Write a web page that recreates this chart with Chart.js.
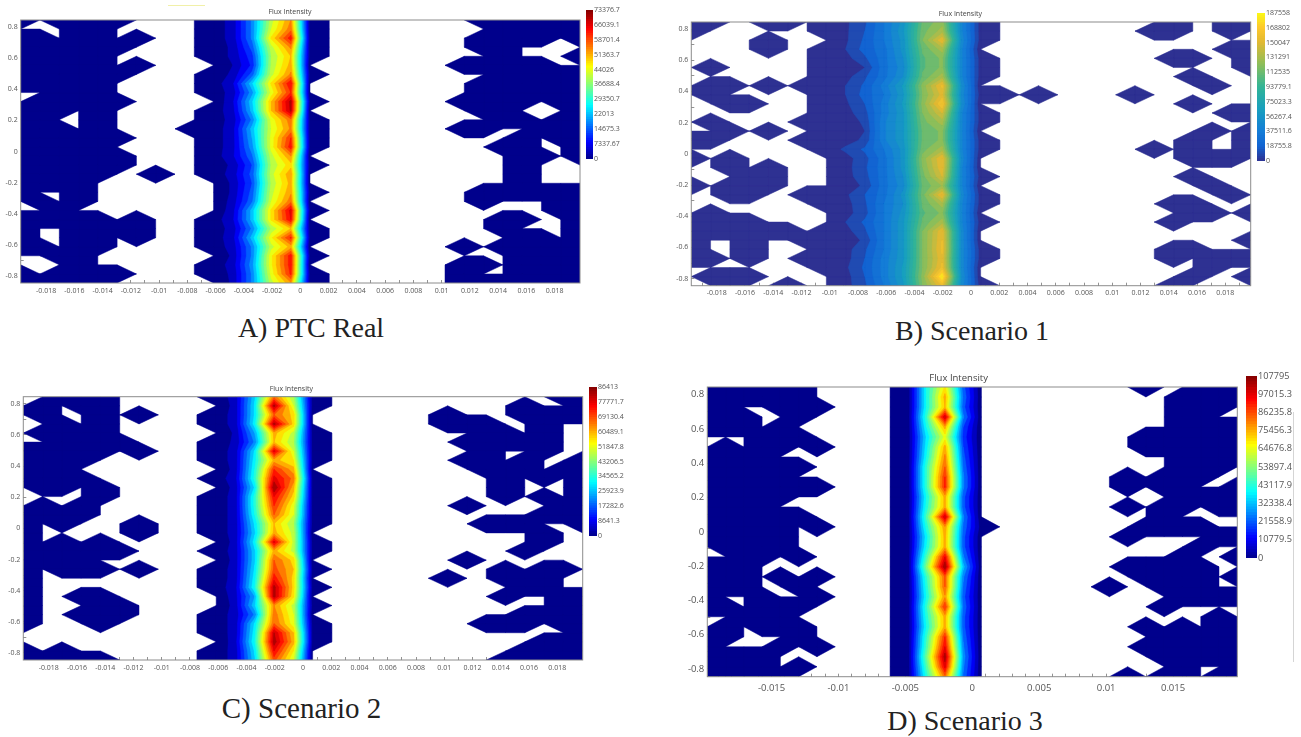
<!DOCTYPE html>
<html>
<head>
<meta charset="utf-8">
<title>Flux Intensity</title>
<script src="https://cdn.jsdelivr.net/npm/chart.js@4/dist/chart.umd.min.js"></script>
<style>
  html,body{margin:0;background:#fff;width:1301px;height:737px;overflow:hidden}
  canvas{position:absolute;filter:blur(.35px)}
  .caption{position:absolute;font-family:"Liberation Serif",serif;color:#222;white-space:nowrap;transform:translateX(-50%)}
  .speck{position:absolute}
</style>
</head>
<body>
<div class="speck" style="left:168px;top:5px;width:37px;height:1px;background:#f1f0a8"></div>
<div class="speck" style="left:1293px;top:412px;width:1px;height:250px;background:#d5d5d5"></div>
<div class="caption" style="left:311px;top:312px;font-size:28px">A) PTC Real</div>
<div class="caption" style="left:972px;top:315px;font-size:28px">B) Scenario 1</div>
<div class="caption" style="left:301.5px;top:692px;font-size:29px">C) Scenario 2</div>
<div class="caption" style="left:965px;top:705px;font-size:28px">D) Scenario 3</div>
<script>
// Node masks, 30 columns x 30 rows, top row first. '#' has flux, '.' has none.
// Written as cols 0-9, cols 10-15 (the beam), cols 16-29
const maskA = [
  "#.####.... ###### ........######",
  "...##..... ###### .........#####",
  "##.##.#... ###### ........####.#",
  "######.... ###### ........##....",
  "#####..... ###### .........#...#",
  "#####.#... .####. .......#####..",
  "######.... ###### .........#####",
  "#####..... #####. ........######",
  "..###..... #####. ........######",
  ".#####.... .##### .......####.##",
  "###.#..... #####. ........##...#",
  "##..#..... ###### .........##.##",
  "###.#....# ###### .......##..###",
  "######.... ###### ..........#.##",
  "#####..... ###### .........##..#",
  "######.... #####. ..........##.#",
  "######.... ###### ..........#...",
  "#####..#.. #####. ..........#...",
  "####...... .####. ..........#...",
  "#..#...... .##### ........######",
  ".#.#...... .####. ........#...##",
  "..#....... .##### ............##",
  "#####.#... #####. .........##..#",
  "#..####... ###### .........#...#",
  "#..##.#... ###### ..........##.#",
  "##.##..... #####. .......#.#####",
  "..##...... .##### ..........####",
  "...#...... #####. .......##.####",
  "#.####.... ###### .......#..####",
  "#####..... .##### .......#######"
];
const maskB = [
  "##..##.### ###### .........#..##",
  "#......### ###### ........##..#.",
  "....#...## ###### ..............",
  "....#..### #####. ............##",
  ".......### ###### .........##..#",
  ".#.....### ###### .............#",
  ".......### ###### ..........#...",
  ".##.#.#### #####. ...........#..",
  ".#.....### ###### #.#....#......",
  "..##...### #####. ..........#...",
  ".......### ###### ............##",
  ".#....#### ###### ..............",
  "..#.#..### #####. ...........#.#",
  "##....#### ###### ..........#..#",
  ".......### ###### ........#.#..#",
  "#.#.....## #####. ..........###.",
  "..#.#...## #####. ..............",
  "...##...## ###### ..........#...",
  "#.###...## #####. ...........#..",
  "..##..#### ###### ............#.",
  ".......### ###### .........##...",
  ".#......## #####. ..........##.#",
  "####....## ###### .........#....",
  "######.### #####. ..............",
  "#..#..#### #####. .............#",
  "#..#...### ###### .........##...",
  "##.#..#.## ###### .........#.###",
  ".......### #####. ...........#..",
  ".###....## #####. ..........#..#",
  "..#..#..## ###### .........#...."
];
const maskC = [
  "..###..... ###### ............##",
  ".#.##..... .##### ..........#..#",
  ".#..#.#... #####. ......#...####",
  "..#.#..... #####. ......###..#..",
  ".####..... .##### ........##.#..",
  "..####.... ###### .......#####..",
  "#####.#... ###### ........#..#..",
  "####...... ###### .......##.#..#",
  "###....... .####. ........###.##",
  "####...... ###### .........#.#.#",
  ".##.#..... .##### .........#...#",
  "....#..... ###### .........#.#.#",
  ".#.#...... ###### .......#....##",
  "####...... ###### ...........##.",
  "#.#...#... ###### ........###..#",
  "#.....#... #####. ...........#..",
  "#.#.#..... .##### ...........#..",
  "######.... ###### ..........#...",
  "####...... .####. .......#......",
  "#.###.#... ###### .........#.##.",
  "#......... #####. ......#..###..",
  "#......... ###### ..........##..",
  "#..##..... .####. .........#..##",
  "#...##.... .##### ............##",
  "#..###.... #####. ..........####",
  "#...#..... ###### ........###.##",
  ".......... ###### .............#",
  ".......... .##### ...........###",
  "#.#....... #####. ..........####",
  "#####..... #####. .........#####"
];
const maskD = [
  "######.... .####. ........#..###",
  "######.... .####. ..........####",
  "##..###... .####. ..........###.",
  "###..#.... .####. ..........##..",
  "###.#..... .####. ..........####",
  "...###.... .####. ........######",
  ".#.##.#... .####. ........######",
  "####...... .####. ..........####",
  "######.... .####. ..........###.",
  "#####..... .####. .......#.###..",
  "#######... .####. .......#.##..#",
  "#####..... .####. ..........####",
  "####...... .####. .......#.##.##",
  "######.... .####. .........#....",
  "#####.#... .##### ........####..",
  "#####..... .####. .......#....##",
  ".####..... .####. ...........#..",
  "..##.#.... .####. ..........#..#",
  "###....... .####. .......###.#..",
  "###.#.#... .####. ........##.#.#",
  "###..#.... .####. ......#..#.#..",
  "#..#..#... .####. ..........####",
  "##.###.... .####. .........#....",
  "..###..... .####. ............#.",
  ".#.###.... .####. ........#.#.##",
  "##...#.... .####. .........#####",
  "#...#.#... .####. ........######",
  "####...... .####. .........#####",
  "####.#.... .####. ..........#..#",
  "#####..... .####. .......#.##.##"
];

// Beam columns, percent of the colour bar top, one value per row, top row first
const col11A = [7,7,7,6,6,5,6,9,7,9,8,7,8,8,8,9,6,7,6,6,7,8,9,7,8,7,6,7,6,6];
const col12A = [26,26,26,22,18,16,22,34,28,34,32,26,32,30,28,24,20,22,20,22,24,32,32,26,32,26,26,28,26,26];
const col13A = [58,60,66,58,55,56,58,66,62,70,70,62,60,62,62,58,56,58,56,58,60,66,66,56,64,58,64,64,62,58];
const col14A = [75,78,88,76,70,72,76,90,85,97,96,78,76,85,88,75,68,74,72,74,78,92,90,70,86,72,88,88,86,74];

const col08B = [4,4,4,5,3,2,3,5,5,4,3,2,2,3,6,3,3,3,2,4,3,3,5,3,2,3,3,4,3,3];
const col09B = [9,10,11,12,9,5,9,11,12,10,8,6,5,6,11,8,9,8,6,10,9,8,11,9,6,9,10,11,10,9];
const col10B = [20,20,20,18,18,18,18,22,20,22,22,24,24,24,20,18,18,18,18,18,20,20,20,20,20,20,22,22,22,20];
const col11B = [32,34,32,32,30,28,30,36,34,36,34,34,34,34,32,32,32,30,28,32,30,32,34,34,34,34,34,36,36,34];
const col12B = [61,63,65,61,59,59,61,67,65,67,65,63,61,61,63,67,65,63,61,63,61,59,61,65,65,65,65,65,67,65];
const col13B = [68,72,84,72,66,66,72,86,82,90,80,72,66,66,72,85,84,80,70,85,72,66,72,84,85,86,84,86,100,85];
const col14B = [26,26,28,26,26,26,26,30,28,30,26,26,26,26,26,28,26,26,26,28,26,26,26,28,28,28,28,28,30,28];

const col11C = [7,7,7,7,6,6,7,7,7,8,7,7,7,7,7,7,7,7,7,7,7,8,8,7,7,7,7,8,7,7];
const col12C = [34,36,36,38,30,26,36,38,40,42,36,42,42,40,36,34,38,34,34,36,38,40,30,34,26,36,38,40,36,34];
const col13C = [78,97,80,97,72,70,92,72,85,92,100,90,85,80,70,72,92,72,80,82,88,97,97,75,78,80,95,98,90,82];
const col14C = [55,60,68,68,58,55,60,65,72,78,72,68,62,60,55,58,58,58,68,70,68,68,66,58,60,62,70,72,65,60];

const col12D = [40,40,40,44,40,36,38,40,44,44,44,40,42,46,42,38,40,46,52,44,42,40,44,42,40,44,46,50,46,42];
const col13D = [66,72,70,95,72,62,72,76,80,85,86,72,72,95,74,72,72,90,100,80,80,74,85,72,72,85,90,98,92,78];
const col14D = [22,24,22,26,20,18,20,22,24,26,26,22,22,26,24,22,22,26,32,26,24,22,24,22,22,24,26,28,26,24];

// Colour bar tick values, bottom up
const barTicksA = [0,7337.67,14675.3,22013,29350.7,36688.4,44026,51363.7,58701.4,66039.1,73376.7];
const barTicksB = [0,18755.8,37511.6,56267.4,75023.3,93779.1,112535,131291,150047,168802,187558];
const barTicksC = [0,8641.3,17282.6,25923.9,34565.2,43206.5,51847.8,60489.1,69130.4,77771.7,86413];
const barTicksD = [0,10779.5,21558.9,32338.4,43117.9,53897.4,64676.8,75456.3,86235.8,97015.3,107795];

// Axis ticks
const xTicksFine = [-0.018,-0.016,-0.014,-0.012,-0.01,-0.008,-0.006,-0.004,-0.002,0,0.002,0.004,0.006,0.008,0.01,0.012,0.014,0.016,0.018];
const xTicksWide = [-0.015,-0.01,-0.005,0,0.005,0.01,0.015];
const xMinor = [-0.019,-0.017,-0.015,-0.013,-0.011,-0.009,-0.007,-0.005,-0.003,-0.001,0.001,0.003,0.005,0.007,0.009,0.011,0.013,0.015,0.017,0.019];
const xMinorWide = [-0.019,-0.018,-0.017,-0.016,-0.014,-0.013,-0.012,-0.011,-0.009,-0.008,-0.007,-0.006,-0.004,-0.003,-0.002,-0.001,0.001,0.002,0.003,0.004,0.006,0.007,0.008,0.009,0.011,0.012,0.013,0.014,0.016,0.017,0.018,0.019];
const yTicks = [-0.8,-0.6,-0.4,-0.2,0,0.2,0.4,0.6,0.8];
const yMinor = [-0.7,-0.5,-0.3,-0.1,0.1,0.3,0.5,0.7];

// Colour maps: position, r, g, b
const jetStops = [[0,0,0,140],[.11,0,0,255],[.36,0,255,255],[.62,255,255,0],[.87,255,0,0],[1,128,0,0]];
const parulaStops = [[0,46,49,146],[.1,18,100,210],[.2,20,125,215],[.35,25,160,190],[.5,50,180,150],[.65,140,190,90],[.8,225,185,50],[.9,253,200,45],[1,250,250,20]];

const NODES = 30, LEVELS = 20, FLOOR = 2, X_END = 0.0198, Y_END = 0.845;

function colorAt(stops, f){
  let i = 1;
  while(i < stops.length-1 && stops[i][0] < f) i++;
  const a = stops[i-1], b = stops[i], t = Math.min(1,Math.max(0,(f-a[0])/(b[0]-a[0])));
  const c = [1,2,3].map(n=>Math.round(a[n]+(b[n]-a[n])*t));
  return `rgb(${c[0]},${c[1]},${c[2]})`;
}

// grid nodes for the scatter dataset, v is flux
function buildNodes(mask, beam, top){
  const nodes = [];
  mask.forEach((line,j)=>{
    const row = line.replace(/ /g,'');
    for(let k=0;k<NODES;k++){
      let pct = 0;
      if(row[k]==='#') pct = beam[k] ? beam[k][j] : FLOOR;
      nodes.push({x:-X_END+k*2*X_END/(NODES-1), y:Y_END-j*2*Y_END/(NODES-1), v:pct/100*top});
    }
  });
  return nodes;
}

// part of one grid cell at or above a level, with linear interpolation on its edges
function clipCell(corners, level){
  const out = [];
  corners.forEach((a,i)=>{
    const b = corners[(i+1)%4];
    if(a.v>=level) out.push(a);
    if((a.v>=level)!==(b.v>=level)){
      const t = (level-a.v)/(b.v-a.v);
      out.push({px:a.px+(b.px-a.px)*t, py:a.py+(b.py-a.py)*t, v:level});
    }
  });
  return out;
}

const fluxContour = {
  id:'fluxContour',
  beforeDatasetsDraw(chart){
    const {ctx, chartArea:area, scales:{x,y}} = chart;
    const cfg = chart.options.plugins.fluxContour;
    const nodes = chart.data.datasets[0].data.map(n=>({px:x.getPixelForValue(n.x), py:y.getPixelForValue(n.y), v:n.v}));
    ctx.save();
    ctx.beginPath(); ctx.rect(area.left,area.top,area.width,area.height); ctx.clip();
    ctx.lineWidth = 0.5;
    for(let l=0;l<LEVELS;l++){
      const level = l===0 ? cfg.top*1e-5 : l/LEVELS*cfg.top;
      const color = colorAt(cfg.stops, l/LEVELS);
      ctx.fillStyle = color; ctx.strokeStyle = color;
      ctx.beginPath();
      for(let j=0;j<NODES-1;j++){
        for(let k=0;k<NODES-1;k++){
          const i = j*NODES+k;
          const poly = clipCell([nodes[i],nodes[i+1],nodes[i+NODES+1],nodes[i+NODES]], level);
          if(poly.length<3) continue;
          ctx.moveTo(poly[0].px,poly[0].py);
          poly.slice(1).forEach(p=>ctx.lineTo(p.px,p.py));
          ctx.closePath();
        }
      }
      ctx.fill(); ctx.stroke();
    }
    ctx.restore();
  },
  afterDatasetsDraw(chart){
    const {ctx, chartArea:a} = chart;
    ctx.save();
    ctx.strokeStyle = '#8c8c8c'; ctx.lineWidth = 1;
    ctx.strokeRect(a.left,a.top,a.width,a.height);
    ctx.restore();
  }
};

function addCanvas(left, top, w, h){
  const c = document.createElement('canvas');
  c.width = w; c.height = h;
  c.style.left = left+'px'; c.style.top = top+'px';
  document.body.appendChild(c);
  return c;
}

function drawPanel(p){
  const titleH = p.titleLine + 3;
  const canvasTop = Math.floor(p.top-titleH);
  const canvasH = Math.ceil(p.bottom-canvasTop+22);
  const canvas = addCanvas(p.canvasLeft, canvasTop, p.canvasRight-p.canvasLeft, canvasH);
  const tickFont = {family:'"Open Sans",sans-serif', size:p.font};
  const isMajor = (list,v)=>list.includes(v);
  new Chart(canvas,{
    type:'scatter',
    data:{datasets:[{data:buildNodes(p.mask,p.beam,p.barTicks[10]), pointRadius:0, showLine:false}]},
    plugins:[fluxContour],
    options:{
      responsive:false, animation:false,
      layout:{padding:{top:p.top-titleH-canvasTop, right:p.canvasRight-p.right}},
      plugins:{
        legend:{display:false}, tooltip:{enabled:false},
        title:{display:true, text:'Flux Intensity', color:'#444', padding:{top:0,bottom:3},
               font:{family:'"Open Sans",sans-serif', size:p.font, weight:'normal', lineHeight:p.titleLine+'px'}},
        fluxContour:{stops:p.stops, top:p.barTicks[10]}
      },
      scales:{
        x:{
          type:'linear', min:-X_END, max:X_END,
          border:{display:false},
          grid:{drawOnChartArea:false, tickLength:-3, color:'#777', lineWidth:.8},
          afterBuildTicks:s=>{s.ticks=[...p.xTicks,...p.xMinor].sort((a,b)=>a-b).map(value=>({value}));},
          afterFit:s=>{s.height=canvasH-(p.bottom-canvasTop);},
          ticks:{autoSkip:false, maxRotation:0, font:tickFont, color:'#555', padding:p.xPad,
                 callback:v=>isMajor(p.xTicks,v)?String(v):''}
        },
        y:{
          type:'linear', min:-Y_END, max:Y_END,
          border:{display:false},
          grid:{drawOnChartArea:false, tickLength:-3, color:'#777', lineWidth:.8},
          afterBuildTicks:s=>{s.ticks=[...yTicks,...yMinor].sort((a,b)=>a-b).map(value=>({value}));},
          afterFit:s=>{s.width=p.left-p.canvasLeft;},
          ticks:{autoSkip:false, font:tickFont, color:'#555', padding:6,
                 callback:v=>isMajor(yTicks,v)?String(v):''}
        }
      }
    }
  });

  // colour bar
  const segments = [];
  for(let i=0;i<64;i++) segments.push({data:[[0,p.barTicks[10]*(i+1)/64]], backgroundColor:colorAt(p.stops,(i+.5)/64), grouped:false, barPercentage:1, categoryPercentage:1});
  const barCanvas = addCanvas(p.barLeft, p.barTop-8, p.barWidth+p.barLabelW, p.barBottom-p.barTop+16);
  new Chart(barCanvas,{
    type:'bar',
    data:{labels:['flux'], datasets:segments},
    options:{
      responsive:false, animation:false,
      layout:{padding:{top:8,bottom:8}},
      plugins:{legend:{display:false}, tooltip:{enabled:false}},
      scales:{
        x:{display:false},
        y:{
          position:'right', min:0, max:p.barTicks[10],
          border:{display:false}, grid:{display:false, drawTicks:false},
          afterBuildTicks:s=>{s.ticks=p.barTicks.map(value=>({value}));},
          afterFit:s=>{s.width=p.barLabelW;},
          ticks:{autoSkip:false, font:{family:'"Open Sans",sans-serif', size:p.barFont}, color:'#555', padding:1, callback:v=>String(v)}
        }
      }
    }
  });
}

drawPanel({mask:maskA, beam:{11:col11A,12:col12A,13:col13A,14:col14A}, barTicks:barTicksA, stops:jetStops,
  xTicks:xTicksFine, xMinor:xMinor, font:7, titleLine:10, xPad:6.5,
  left:20.7, right:580, top:20, bottom:283, canvasLeft:0, canvasRight:588,
  barLeft:586, barTop:10, barBottom:159, barWidth:7, barLabelW:36, barFont:7});
drawPanel({mask:maskB, beam:{8:col08B,9:col09B,10:col10B,11:col11B,12:col12B,13:col13B,14:col14B}, barTicks:barTicksB, stops:parulaStops,
  xTicks:xTicksFine, xMinor:xMinor, font:7, titleLine:10, xPad:6.5,
  left:691.3, right:1250.7, top:22, bottom:285.7, canvasLeft:670, canvasRight:1260,
  barLeft:1257, barTop:13, barBottom:161, barWidth:8, barLabelW:36, barFont:7});
drawPanel({mask:maskC, beam:{11:col11C,12:col12C,13:col13C,14:col14C}, barTicks:barTicksC, stops:jetStops,
  xTicks:xTicksFine, xMinor:xMinor, font:7, titleLine:10, xPad:6.5,
  left:23.3, right:582.7, top:396.7, bottom:660, canvasLeft:0, canvasRight:594,
  barLeft:589, barTop:387, barBottom:536, barWidth:8, barLabelW:36, barFont:7});
drawPanel({mask:maskD, beam:{12:col12D,13:col13D,14:col14D}, barTicks:barTicksD, stops:jetStops,
  xTicks:xTicksWide, xMinor:xMinorWide, font:9.5, titleLine:12, xPad:9,
  left:707.3, right:1237.3, top:387, bottom:676.7, canvasLeft:680, canvasRight:1246,
  barLeft:1246, barTop:376, barBottom:558, barWidth:11, barLabelW:44, barFont:9.2});
</script>
</body>
</html>
